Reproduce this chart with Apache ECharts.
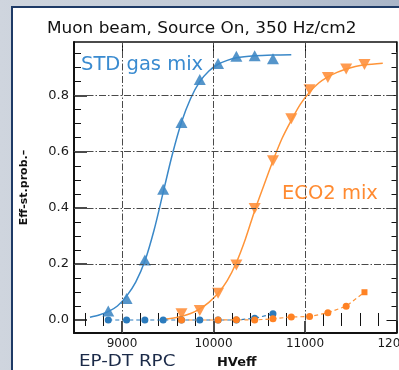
<!DOCTYPE html>
<html>
<head>
<meta charset="utf-8">
<script src="https://cdn.jsdelivr.net/npm/echarts@6/dist/echarts.min.js"></script>
<style>
  html, body { margin: 0; padding: 0; }
  body {
    width: 399px; height: 370px; overflow: hidden; position: relative;
    background: linear-gradient(90deg, #cfd5de 0%, #bfc8d5 60%, #a9b5c8 100%);
  }
  #panel {
    position: absolute; left: 11px; top: 6px; width: 400px; height: 380px;
    background: #fff; border: 2px solid #1e3a66; box-sizing: border-box;
  }
  #chart { position: absolute; left: 0; top: 0; width: 399px; height: 370px; }
</style>
</head>
<body>
<div id="panel"></div>
<div id="chart"></div>
<script>
// STD gas mix: efficiency points (up triangles) and fit curve
const stdX = [8850, 9050, 9250, 9450, 9650, 9850, 10050, 10250, 10450, 10650]
const stdEff = [0.032, 0.077, 0.214, 0.466, 0.704, 0.858, 0.915, 0.941, 0.942, 0.932]
const stdNoise = [0, 0, 0, 0, 0, 0, 0, 0, 0.006, 0.022]
const stdFitX = [8650, 8750, 8850, 8950, 9050, 9150, 9250, 9350, 9450, 9550, 9650, 9750, 9850, 9950, 10050, 10150, 10250, 10450, 10650, 10850]
const stdFitY = [0.010, 0.018, 0.030, 0.050, 0.085, 0.135, 0.210, 0.320, 0.455, 0.590, 0.705, 0.790, 0.850, 0.888, 0.912, 0.926, 0.935, 0.942, 0.945, 0.946]

// ECO2 mix: efficiency points (down triangles), fit curve and noise points
const ecoX = [9650, 9850, 10050, 10250, 10450, 10650, 10850, 11050, 11250, 11450, 11650]
const ecoEff = [0.022, 0.034, 0.095, 0.196, 0.398, 0.568, 0.718, 0.821, 0.865, 0.895, 0.911]
const ecoNoiseX = [9650, 10050, 10250, 10450, 10650, 10850, 11050, 11250, 11450, 11650]
const ecoNoise = [0, 0, 0.001, 0, 0.004, 0.011, 0.012, 0.026, 0.049, 0.099]
const ecoFitX = [9450, 9550, 9650, 9750, 9850, 9950, 10050, 10150, 10250, 10350, 10450, 10550, 10650, 10750, 10850, 10950, 11050, 11150, 11250, 11350, 11450, 11550, 11650, 11850]
const ecoFitY = [0.003, 0.006, 0.013, 0.023, 0.040, 0.063, 0.095, 0.140, 0.205, 0.290, 0.390, 0.480, 0.568, 0.648, 0.712, 0.770, 0.812, 0.845, 0.867, 0.883, 0.895, 0.904, 0.910, 0.916]

// axes
const xMajor = [9000, 10000, 11000, 12000]
const xMinor = [8600, 8800, 9200, 9400, 9600, 9800, 10200, 10400, 10600, 10800, 11200, 11400, 11600, 11800]
const yMajor = [0, 0.2, 0.4, 0.6, 0.8]
const yMinor = [0.05, 0.1, 0.15, 0.25, 0.3, 0.35, 0.45, 0.5, 0.55, 0.65, 0.7, 0.75, 0.85, 0.9, 0.95]
const xGrid = [9000, 10000, 11000]
const yGrid = [0.2, 0.4, 0.6, 0.8]

const xMin = 8475.5, xMax = 12000
const yMin = -0.0464, yMax = 0.9914

const FONT = 'DejaVu Sans'
const BLUE = '#2b7bbd'
const ORANGE = '#ff8224'
const INK = '#111'

const zip = (xs, ys) => xs.map((x, i) => [x, ys[i]])

const tickAxis = (pos, values, len, opts = {}) => Object.assign({
  type: 'value', position: pos,
  min: pos === 'top' || pos === 'bottom' ? xMin : yMin,
  max: pos === 'top' || pos === 'bottom' ? xMax : yMax,
  axisLine: { show: false },
  axisTick: { show: true, inside: true, length: len, customValues: values, lineStyle: { color: INK, width: 1 } },
  axisLabel: { show: false },
  splitLine: { show: false }
}, opts)

const chart = echarts.init(document.getElementById('chart'))

const gridDash = { color: '#4a4a4a', width: 1, type: [7, 2, 1.5, 2] }

chart.setOption({
  animation: false,
  backgroundColor: 'transparent',
  grid: { left: 74, top: 42, right: 2.5, bottom: 37, containLabel: false, outerBoundsMode: 'none' },
  xAxis: [
    tickAxis('bottom', xMajor, 12, {
      axisLine: { show: true, onZero: false, lineStyle: { color: INK, width: 2 } },
      axisTick: { show: true, inside: true, length: 12, customValues: xMajor, lineStyle: { color: INK, width: 1.5 } },
      axisLabel: { show: true, customValues: xMajor, fontFamily: FONT, fontSize: 12, color: '#1a1a1a', margin: 5,
        formatter: v => String(v) }
    }),
    tickAxis('bottom', xMinor, 7),
    tickAxis('top', xMajor, 10, {
      axisLine: { show: true, onZero: false, lineStyle: { color: INK, width: 1.5 } }
    }),
    tickAxis('top', xMinor, 6)
  ],
  yAxis: [
    tickAxis('left', yMajor, 13, {
      axisLine: { show: true, onZero: false, lineStyle: { color: INK, width: 2 } },
      axisTick: { show: true, inside: true, length: 13, customValues: yMajor, lineStyle: { color: INK, width: 1.5 } },
      axisLabel: { show: true, customValues: yMajor, fontFamily: FONT, fontSize: 13, color: '#1a1a1a', margin: 5,
        formatter: v => v.toFixed(1) },
      name: 'Eff-st.prob.–', nameLocation: 'middle', nameGap: 44,
      nameTextStyle: { fontFamily: FONT, fontWeight: 'bold', fontSize: 11, color: INK }
    }),
    tickAxis('left', yMinor, 7),
    tickAxis('right', yMajor, 10, {
      axisLine: { show: true, onZero: false, lineStyle: { color: INK, width: 1.5 } }
    }),
    tickAxis('right', yMinor, 5)
  ],
  series: [
    {
      // dash-dot grid
      type: 'line', data: [], z: 1, silent: true,
      markLine: {
        silent: true, symbol: 'none', label: { show: false },
        lineStyle: gridDash,
        data: [
          ...xGrid.map(v => ({ xAxis: v })),
          ...yGrid.map(v => ({ yAxis: v }))
        ]
      }
    },
    {
      name: 'STD fit', type: 'line', smooth: 0.3, symbol: 'none',
      data: zip(stdFitX, stdFitY),
      lineStyle: { color: '#3a88c8', width: 1.5 }
    },
    {
      name: 'ECO2 fit', type: 'line', smooth: 0.3, symbol: 'none',
      data: zip(ecoFitX, ecoFitY),
      lineStyle: { color: '#ff9438', width: 1.5 }
    },
    {
      name: 'STD noise', type: 'line', symbol: 'circle', symbolSize: 7, showAllSymbol: true,
      data: zip(stdX, stdNoise),
      itemStyle: { color: BLUE, borderWidth: 0 },
      lineStyle: { color: BLUE, width: 1.2, type: [4, 3] }
    },
    {
      name: 'ECO2 noise', type: 'line', symbol: 'circle', symbolSize: 7, showAllSymbol: true,
      data: zip(ecoNoiseX, ecoNoise).map((p, i, a) =>
        i === a.length - 1 ? { value: p, symbol: 'rect', symbolSize: 6 } : p),
      itemStyle: { color: ORANGE, borderWidth: 0 },
      lineStyle: { color: '#ff9438', width: 1.2, type: [4, 3] }
    },
    {
      name: 'STD gas mix', type: 'scatter', symbol: 'triangle', symbolSize: [12, 11],
      data: zip(stdX, stdEff),
      itemStyle: { color: BLUE }
    },
    {
      name: 'ECO2 mix', type: 'scatter', symbol: 'triangle', symbolRotate: 180, symbolSize: [12, 11],
      data: zip(ecoX, ecoEff),
      itemStyle: { color: ORANGE }
    }
  ],
  graphic: [
    {
      type: 'text', x: 47, y: 29.5, scaleX: 1.125,
      style: { text: 'Muon beam, Source On, 350 Hz/cm2', fontFamily: FONT, fontSize: 15, fill: INK,
        textAlign: 'left', textVerticalAlign: 'middle' }
    },
    {
      type: 'text', x: 81, y: 65,
      style: { text: 'STD gas mix', fontFamily: FONT, fontSize: 19.5, fill: '#3a8bd0',
        textAlign: 'left', textVerticalAlign: 'middle' }
    },
    {
      type: 'text', x: 282, y: 194,
      style: { text: 'ECO2 mix', fontFamily: FONT, fontSize: 19.5, fill: '#ff8a30',
        textAlign: 'left', textVerticalAlign: 'middle' }
    },
    {
      type: 'text', x: 79, y: 362, scaleX: 1.22,
      style: { text: 'EP-DT RPC', fontFamily: FONT, fontSize: 15, fill: '#1b2a48',
        textAlign: 'left', textVerticalAlign: 'middle' }
    },
    {
      type: 'text', x: 217, y: 363, scaleX: 1.08,
      style: { text: 'HVeff', fontFamily: FONT, fontWeight: 'bold', fontSize: 12, fill: INK,
        textAlign: 'left', textVerticalAlign: 'middle' }
    }
  ]
})
</script>
</body>
</html>
